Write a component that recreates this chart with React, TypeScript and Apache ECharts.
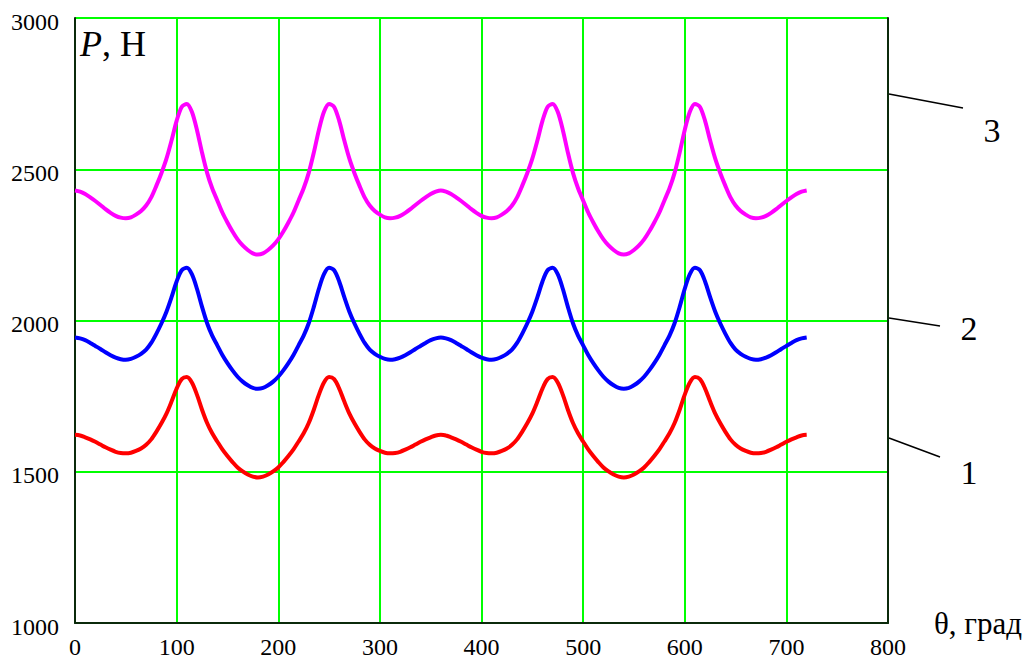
import React, { useEffect, useRef } from "react";
import * as echarts from "echarts";

// θ, degrees (step 5°, 0..720)
const theta: number[] = [];
for (let t = 0; t <= 720; t += 5) theta.push(t);

// Curve 3 (magenta), P in N
const p3 = [
  2430, 2426, 2418, 2407, 2395, 2382, 2368, 2356, 2346, 2340, 2338, 2341, 2350, 2362, 2380, 2407, 2445, 2487, 2535,
  2595, 2660, 2706, 2716, 2690, 2630, 2555, 2488, 2437, 2397, 2357, 2324, 2294, 2268, 2248, 2233, 2222, 2218,
  2222, 2233, 2248, 2268, 2294, 2324, 2357, 2397, 2437, 2488, 2555, 2630, 2690, 2716, 2706, 2660, 2595, 2535,
  2487, 2445, 2407, 2380, 2362, 2350, 2341, 2338, 2340, 2346, 2356, 2368, 2382, 2395, 2407, 2418, 2426, 2430,
  2426, 2418, 2407, 2395, 2382, 2368, 2356, 2346, 2340, 2338, 2341, 2350, 2362, 2380, 2407, 2445, 2487, 2535,
  2595, 2660, 2706, 2716, 2690, 2630, 2555, 2488, 2437, 2397, 2357, 2324, 2294, 2268, 2248, 2233, 2222, 2218,
  2222, 2233, 2248, 2268, 2294, 2324, 2357, 2397, 2437, 2488, 2555, 2630, 2690, 2716, 2706, 2660, 2595, 2535,
  2487, 2445, 2407, 2380, 2362, 2350, 2341, 2338, 2340, 2346, 2356, 2368, 2382, 2395, 2407, 2418, 2426, 2430,
];
// Curve 2 (blue)
const p2 = [
  1944, 1941, 1935, 1926, 1916, 1906, 1895, 1885, 1877, 1872, 1870, 1873, 1880, 1890, 1904, 1926, 1956, 1990, 2029,
  2077, 2129, 2166, 2174, 2153, 2105, 2045, 1991, 1950, 1918, 1886, 1859, 1835, 1814, 1798, 1786, 1777, 1774,
  1777, 1786, 1798, 1814, 1835, 1859, 1886, 1918, 1950, 1991, 2045, 2105, 2153, 2174, 2166, 2129, 2077, 2029,
  1990, 1956, 1926, 1904, 1890, 1880, 1873, 1870, 1872, 1877, 1885, 1895, 1906, 1916, 1926, 1935, 1941, 1944,
  1941, 1935, 1926, 1916, 1906, 1895, 1885, 1877, 1872, 1870, 1873, 1880, 1890, 1904, 1926, 1956, 1990, 2029,
  2077, 2129, 2166, 2174, 2153, 2105, 2045, 1991, 1950, 1918, 1886, 1859, 1835, 1814, 1798, 1786, 1777, 1774,
  1777, 1786, 1798, 1814, 1835, 1859, 1886, 1918, 1950, 1991, 2045, 2105, 2153, 2174, 2166, 2129, 2077, 2029,
  1990, 1956, 1926, 1904, 1890, 1880, 1873, 1870, 1872, 1877, 1885, 1895, 1906, 1916, 1926, 1935, 1941, 1944,
];
// Curve 1 (red)
const p1 = [
  1622, 1620, 1614, 1607, 1599, 1590, 1581, 1573, 1566, 1562, 1561, 1563, 1569, 1577, 1589, 1607, 1632, 1660, 1692,
  1732, 1775, 1806, 1813, 1795, 1755, 1705, 1661, 1627, 1600, 1574, 1552, 1532, 1514, 1501, 1491, 1484, 1481,
  1484, 1491, 1501, 1514, 1532, 1552, 1574, 1600, 1627, 1661, 1705, 1755, 1795, 1813, 1806, 1775, 1732, 1692,
  1660, 1632, 1607, 1589, 1577, 1569, 1563, 1561, 1562, 1566, 1573, 1581, 1590, 1599, 1607, 1614, 1620, 1622,
  1620, 1614, 1607, 1599, 1590, 1581, 1573, 1566, 1562, 1561, 1563, 1569, 1577, 1589, 1607, 1632, 1660, 1692,
  1732, 1775, 1806, 1813, 1795, 1755, 1705, 1661, 1627, 1600, 1574, 1552, 1532, 1514, 1501, 1491, 1484, 1481,
  1484, 1491, 1501, 1514, 1532, 1552, 1574, 1600, 1627, 1661, 1705, 1755, 1795, 1813, 1806, 1775, 1732, 1692,
  1660, 1632, 1607, 1589, 1577, 1569, 1563, 1561, 1562, 1566, 1573, 1581, 1590, 1599, 1607, 1614, 1620, 1622,
];

const curveLabels = ["1", "2", "3"];

const FONT = "Liberation Serif";

export default function App() {
  const ref = useRef<HTMLDivElement>(null);
  useEffect(() => {
    if (!ref.current) return;
    const chart = echarts.init(ref.current, null, { renderer: "svg" });
    const mk = (arr: number[]) => theta.map((t, i) => [t, arr[i]]);
    const lineStyleBase = { width: 4 };
    const rich = { t: { fontFamily: FONT, fontSize: 24, color: "#000" } };
    const fmt = (v: number) => `{t|${v}}`;
    chart.setOption({
      animation: false,
      backgroundColor: "#ffffff",
      textStyle: { fontFamily: FONT, fontSize: 24, color: "#000" },
      grid: { left: 75, right: 141, top: 18, bottom: 34, containLabel: false },
      xAxis: {
        type: "value",
        min: 0,
        max: 800,
        interval: 100,
        axisLine: { show: true, onZero: false, lineStyle: { color: "#0b2a0b", width: 2 } },
        axisTick: { show: false },
        splitLine: { show: true, lineStyle: { color: "#00ff00", width: 2 } },
        axisLabel: { color: "#000", fontFamily: FONT, fontSize: 24, formatter: fmt, rich, margin: 12 },
      },
      yAxis: [
        {
          type: "value",
          min: 1000,
          max: 3000,
          interval: 500,
          axisLine: { show: true, onZero: false, lineStyle: { color: "#0b2a0b", width: 2 } },
          axisTick: { show: false },
          splitLine: { show: true, lineStyle: { color: "#00ff00", width: 2 } },
          axisLabel: {
            color: "#000",
            fontFamily: FONT,
            fontSize: 24,
            formatter: fmt,
            rich,
            margin: 16,
            padding: [7, 0, 0, 0],
          },
        },
        {
          type: "value",
          min: 1000,
          max: 3000,
          interval: 500,
          position: "right",
          axisLine: { show: true, onZero: false, lineStyle: { color: "#0b2a0b", width: 2 } },
          axisTick: { show: false },
          splitLine: { show: false },
          axisLabel: { show: false },
        },
      ],
      series: [
        {
          name: curveLabels[2],
          type: "line",
          data: mk(p3),
          smooth: 0.3,
          showSymbol: false,
          lineStyle: { ...lineStyleBase, color: "#ff00ff" },
          itemStyle: { color: "#ff00ff" },
        },
        {
          name: curveLabels[1],
          type: "line",
          data: mk(p2),
          smooth: 0.3,
          showSymbol: false,
          lineStyle: { ...lineStyleBase, color: "#0000ff" },
          itemStyle: { color: "#0000ff" },
        },
        {
          name: curveLabels[0],
          type: "line",
          data: mk(p1),
          smooth: 0.3,
          showSymbol: false,
          lineStyle: { ...lineStyleBase, color: "#ff0000" },
          itemStyle: { color: "#ff0000" },
        },
      ],
      graphic: [
        {
          type: "text",
          left: 80,
          top: 26,
          style: {
            text: "{i|P}, Н",
            fill: "#000",
            font: `36px ${FONT}`,
            rich: { i: { fontStyle: "italic", fontFamily: FONT, fontSize: 36, fill: "#000" } },
          },
        },
        {
          type: "text",
          left: 934,
          top: 608,
          style: { text: "θ, град", fill: "#000", font: `31px ${FONT}` },
        },
        { type: "line", shape: { x1: 889, y1: 94, x2: 963, y2: 108 }, style: { stroke: "#000", lineWidth: 1.5 } },
        { type: "line", shape: { x1: 889, y1: 318, x2: 940, y2: 326 }, style: { stroke: "#000", lineWidth: 1.5 } },
        { type: "line", shape: { x1: 889, y1: 438, x2: 940, y2: 457 }, style: { stroke: "#000", lineWidth: 1.5 } },
        {
          type: "text",
          x: 992,
          y: 130,
          style: { text: curveLabels[2], fill: "#000", font: `34px ${FONT}`, align: "center", verticalAlign: "middle" },
        },
        {
          type: "text",
          x: 969,
          y: 328,
          style: { text: curveLabels[1], fill: "#000", font: `34px ${FONT}`, align: "center", verticalAlign: "middle" },
        },
        {
          type: "text",
          x: 969,
          y: 472,
          style: { text: curveLabels[0], fill: "#000", font: `34px ${FONT}`, align: "center", verticalAlign: "middle" },
        },
      ],
    });
    return () => chart.dispose();
  }, []);
  return (
    <div
      ref={ref}
      style={{ position: "fixed", left: 0, top: 0, width: 1029, height: 659, background: "#fff" }}
    />
  );
}
